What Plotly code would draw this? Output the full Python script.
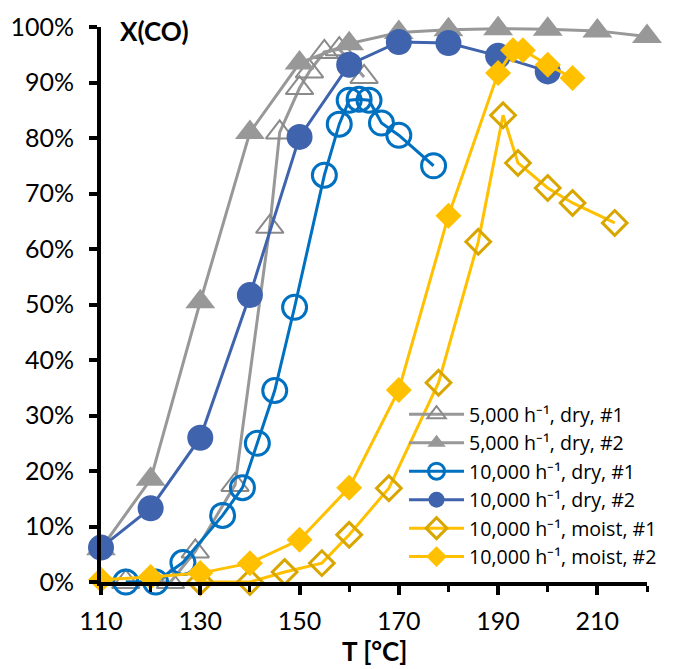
import plotly.graph_objects as go

# ---- data ----
t_5k_dry1 = [115, 124, 129, 137, 144, 146, 150, 152, 155, 158, 163]
x_5k_dry1 = [0.0, 0.0, 5.5, 17.5, 64.0, 81.0, 89.0, 92.0, 95.5, 96.0, 91.0]

t_5k_dry2 = [110, 120, 130, 140, 150, 160, 170, 180, 190, 200, 210, 220]
x_5k_dry2 = [6.0, 18.5, 50.5, 81.0, 93.5, 97.0, 99.0, 99.5, 99.7, 99.6, 99.3, 98.3]

t_10k_dry1 = [115, 121, 126.5, 134.5, 138.5, 141.5, 145, 149, 155, 158, 160, 162, 164, 166.5, 170, 177]
x_10k_dry1 = [0.0, 0.0, 3.5, 12.0, 17.0, 25.0, 34.5, 49.5, 73.3, 82.5, 86.8, 87.0, 86.8, 82.7, 80.5, 75.0]

t_10k_dry2 = [110, 120, 130, 140, 150, 160, 170, 180, 190, 200]
x_10k_dry2 = [6.2, 13.3, 26.0, 51.7, 80.2, 93.2, 97.3, 97.1, 94.8, 92.0]

t_10k_moist1 = [130, 140, 147, 154.5, 160, 168, 178, 186, 191, 194, 200, 205, 213.5]
x_10k_moist1 = [0.0, 0.0, 1.8, 3.4, 8.5, 16.9, 35.9, 61.3, 84.1, 75.5, 71.0, 68.3, 64.7]

t_10k_moist2 = [110, 120, 130, 140, 150, 160, 170, 180, 190, 193, 195, 200, 205]
x_10k_moist2 = [0.4, 0.9, 1.6, 3.4, 7.6, 17.0, 34.6, 66.0, 91.7, 95.8, 95.8, 93.2, 90.8]

names = ["5,000 h\u207b\u00b9, dry, #1", "5,000 h\u207b\u00b9, dry, #2",
         "10,000 h\u207b\u00b9, dry, #1", "10,000 h\u207b\u00b9, dry, #2",
         "10,000 h\u207b\u00b9, moist, #1", "10,000 h\u207b\u00b9, moist, #2"]

x_ticks = [110, 130, 150, 170, 190, 210]
x_minor = [120, 140, 160, 180, 200, 220]
y_ticks = [0, 10, 20, 30, 40, 50, 60, 70, 80, 90, 100]

FONT = "Lato"
GRAY = "#989898"
GRAY_D = "#8a8a8a"
BLUE = "#0070C0"
DBLUE = "#3F64AD"
GOLD = "#FFC000"
GOLD_D = "#D9A600"

fig = go.Figure()

def add(t, x, name, color, mcolor, symbol, size, lw=3):
    fig.add_trace(go.Scatter(
        x=t, y=[v / 100 for v in x], name=name, mode="lines+markers",
        line=dict(color=color, width=3),
        marker=dict(symbol=symbol, size=size, color=mcolor,
                    line=dict(color=mcolor, width=lw)),
        cliponaxis=False))

add(t_5k_dry1, x_5k_dry1, names[0], GRAY, GRAY_D, "triangle-up-open", 24, 2)
add(t_5k_dry2, x_5k_dry2, names[1], GRAY, GRAY, "triangle-up", 26, 0)
add(t_10k_dry1, x_10k_dry1, names[2], BLUE, BLUE, "circle-open", 24, 3)
add(t_10k_dry2, x_10k_dry2, names[3], DBLUE, DBLUE, "circle", 26, 0)
add(t_10k_moist1, x_10k_moist1, names[4], GOLD, GOLD_D, "diamond-open", 19, 3)
add(t_10k_moist2, x_10k_moist2, names[5], GOLD, GOLD, "diamond", 20, 0)

fig.update_layout(
    width=675, height=669,
    margin=dict(l=93, r=36, t=19, b=95),
    plot_bgcolor="white", paper_bgcolor="white",
    font=dict(family=FONT, size=25, color="black"),
    showlegend=True,
    legend=dict(x=0.555, y=0.337, xanchor="left", yanchor="top",
                bgcolor="rgba(0,0,0,0)", font=dict(family="Open Sans", size=19.6),
                itemwidth=55, tracegroupgap=0),
    xaxis=dict(range=[110, 220], tickvals=x_ticks, ticktext=[str(v) for v in x_ticks],
               showgrid=False, zeroline=False, showline=True, linecolor="black", linewidth=4,
               ticks="outside", ticklen=9, tickwidth=4, tickcolor="black",
               minor=dict(tickvals=x_minor, ticks="outside",
                          ticklen=6, tickwidth=3, tickcolor="black"),
               ticklabelstandoff=5, automargin=False),
    yaxis=dict(range=[0, 1], tickvals=[v / 100 for v in y_ticks],
               ticktext=[f"{v}%" for v in y_ticks],
               showgrid=False, zeroline=False, showline=True, linecolor="black", linewidth=4,
               ticks="outside", ticklen=8, tickwidth=4, tickcolor="black",
               ticklabelstandoff=10, automargin=False),
    annotations=[
        dict(text="<b>X(CO)</b>", x=0.031, y=0.993, xref="paper", yref="paper",
             xanchor="left", yanchor="middle", showarrow=False,
             font=dict(family=FONT, size=26)),
        dict(text="<b>T [°C]</b>", x=0.5, y=-0.124, xref="paper", yref="paper",
             xanchor="center", yanchor="middle", showarrow=False,
             font=dict(family=FONT, size=26)),
    ],
)

fig.write_html("out.html")
